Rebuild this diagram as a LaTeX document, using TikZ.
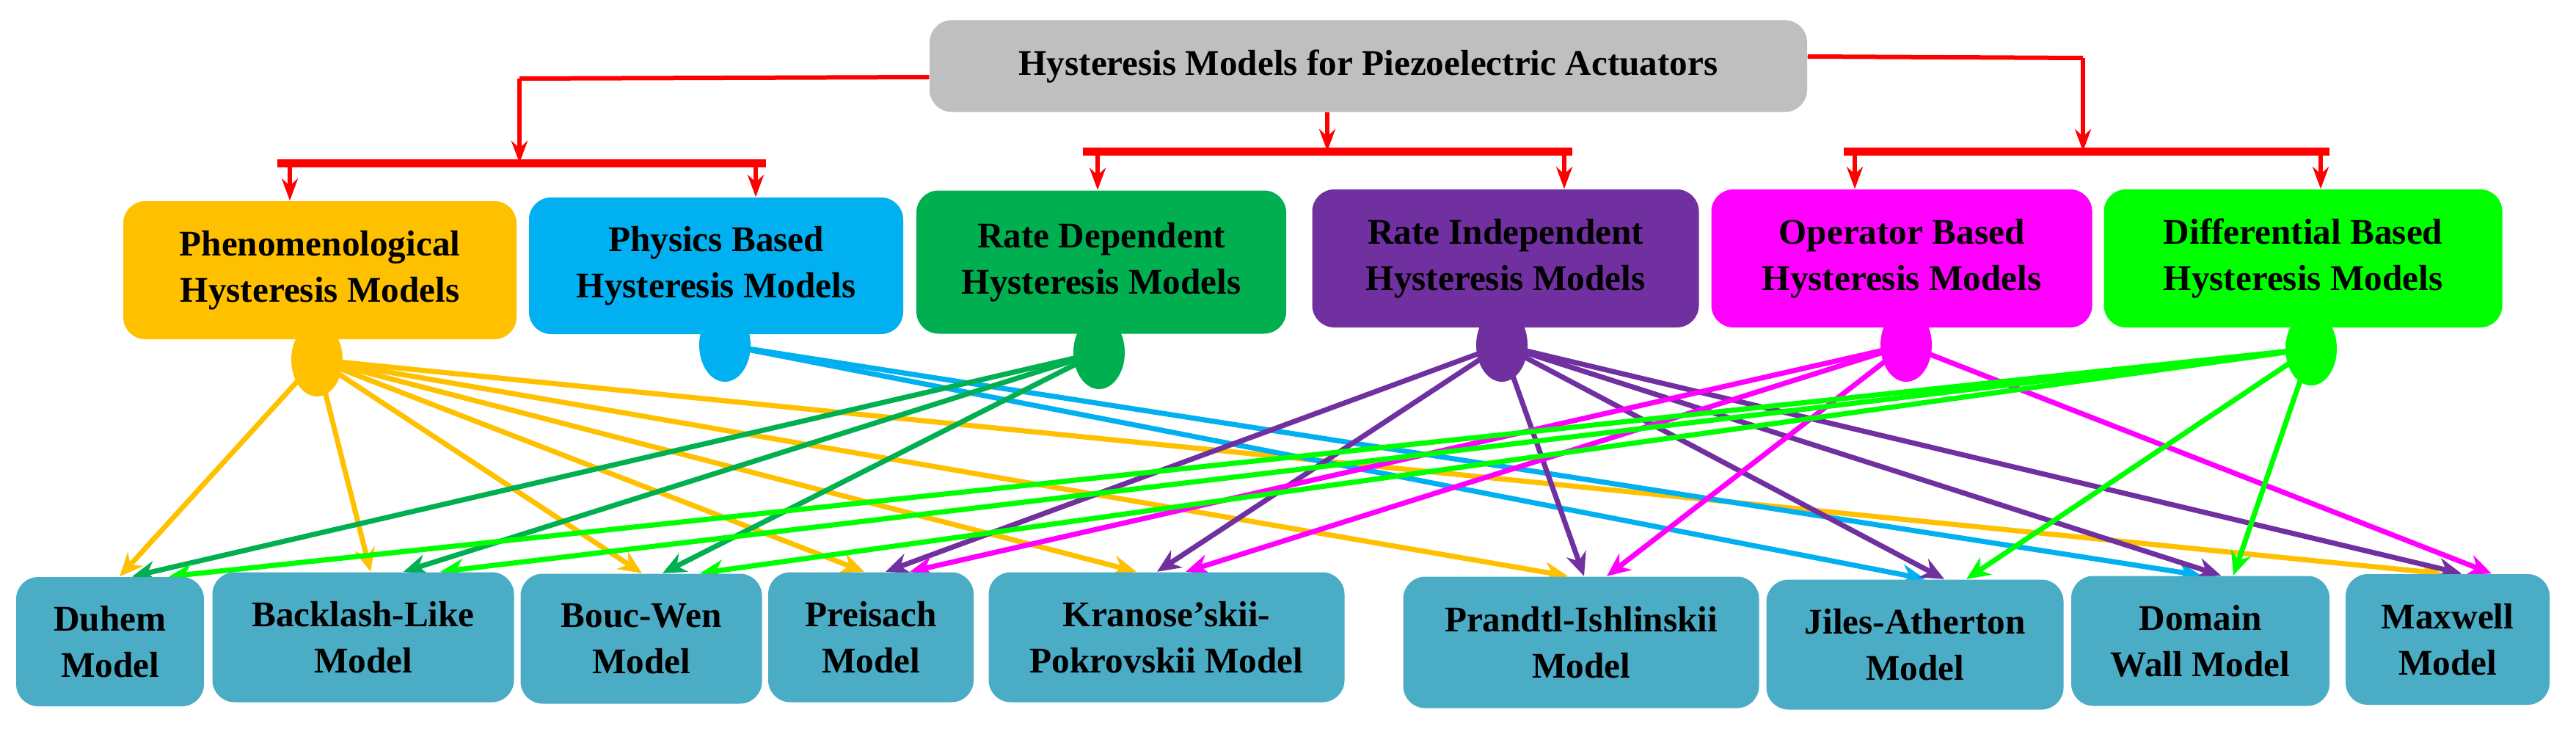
\documentclass[tikz,border=0pt]{standalone}
\usepackage{fontspec}
\setmainfont{Liberation Serif}
\usetikzlibrary{arrows.meta,shapes.geometric}
\pgfdeclarelayer{bg}\pgfsetlayers{bg,main}
\definecolor{cPh}{HTML}{FFC000}\definecolor{cPb}{HTML}{00B0F0}
\definecolor{cRd}{HTML}{00B050}\definecolor{cRi}{HTML}{7030A0}
\definecolor{cOp}{HTML}{FF00FF}\definecolor{cDf}{HTML}{00FF00}
\definecolor{cBt}{HTML}{4BACC6}\definecolor{cTop}{HTML}{BFBFBF}
\definecolor{cRed}{HTML}{FF0000}
\tikzset{
 box/.style={rounded corners=0.3cm,inner sep=2pt,align=center,font=\bfseries\fontsize{14}{18}\selectfont},
 bulb/.style={ellipse,minimum width=0.7cm,minimum height=1.0cm,inner sep=0pt},
 con/.style={line width=0.07cm,-{Stealth[length=0.32cm,width=0.28cm]}},
 rl/.style={cRed,line width=0.06cm},
 rbar/.style={cRed,line width=0.11cm},
 ra/.style={cRed,line width=0.06cm,-{Stealth[length=0.3cm,width=0.22cm]}}
}
\begin{document}
\begin{tikzpicture}
\useasboundingbox (0,0) rectangle (35.11,9.92);
% top
\node[box,fill=cTop,minimum width=11.96cm,minimum height=1.25cm] (top) at (18.65,9.02) {Hysteresis Models for Piezoelectric Actuators};
% categories
\node[box,fill=cPh,minimum width=5.36cm,minimum height=1.88cm] (ph) at (4.36,6.24) {Phenomenological\\Hysteresis Models};
\node[box,fill=cPb,minimum width=5.10cm,minimum height=1.86cm] (pb) at (9.76,6.30) {Physics Based\\Hysteresis Models};
\node[box,fill=cRd,minimum width=5.04cm,minimum height=1.95cm] (rd) at (15.01,6.35) {Rate Dependent\\Hysteresis Models};
\node[box,fill=cRi,minimum width=5.27cm,minimum height=1.88cm] (ri) at (20.52,6.40) {Rate Independent\\Hysteresis Models};
\node[box,fill=cOp,minimum width=5.19cm,minimum height=1.88cm] (op) at (25.92,6.40) {Operator Based\\Hysteresis Models};
\node[box,fill=cDf,minimum width=5.43cm,minimum height=1.88cm] (df) at (31.39,6.40) {Differential Based\\Hysteresis Models};
% bulbs
\node[bulb,fill=cPh] (bph) at (4.32,5.02) {};
\node[bulb,fill=cPb] (bpb) at (9.88,5.22) {};
\node[bulb,fill=cRd] (brd) at (14.98,5.12) {};
\node[bulb,fill=cRi] (bri) at (20.47,5.22) {};
\node[bulb,fill=cOp] (bop) at (25.98,5.22) {};
\node[bulb,fill=cDf] (bdf) at (31.50,5.17) {};
% bottom
\node[box,fill=cBt,minimum width=2.56cm,minimum height=1.76cm] (duh) at (1.50,1.18) {Duhem\\Model};
\node[box,fill=cBt,minimum width=4.11cm,minimum height=1.77cm] (bac) at (4.95,1.24) {Backlash-Like\\Model};
\node[box,fill=cBt,minimum width=3.29cm,minimum height=1.77cm] (bou) at (8.74,1.22) {Bouc-Wen\\Model};
\node[box,fill=cBt,minimum width=2.80cm,minimum height=1.77cm] (pre) at (11.87,1.24) {Preisach\\Model};
\node[box,fill=cBt,minimum width=4.85cm,minimum height=1.77cm] (kra) at (15.90,1.24) {Kranose’skii-\\Pokrovskii Model};
\node[box,fill=cBt,minimum width=4.85cm,minimum height=1.79cm] (pra) at (21.55,1.17) {Prandtl-Ishlinskii\\Model};
\node[box,fill=cBt,minimum width=4.05cm,minimum height=1.77cm] (jil) at (26.10,1.14) {Jiles-Atherton\\Model};
\node[box,fill=cBt,minimum width=3.52cm,minimum height=1.77cm] (dom) at (29.99,1.19) {Domain\\Wall Model};
\node[box,fill=cBt,minimum width=2.78cm,minimum height=1.78cm] (max) at (33.36,1.21) {Maxwell\\Model};
% red tree
\coordinate (la) at (7.08,8.85);
\coordinate (lb) at (7.08,7.70);
\coordinate (l1) at (3.95,7.70);
\coordinate (l2) at (10.30,7.70);
\coordinate (mb) at (18.09,7.86);
\coordinate (m1) at (14.96,7.86);
\coordinate (m2) at (21.32,7.86);
\coordinate (ra1) at (28.39,9.13);
\coordinate (rb) at (28.39,7.86);
\coordinate (r1) at (25.28,7.86);
\coordinate (r2) at (31.63,7.86);
\draw[rl] ([yshift=-0.15cm]top.west) -- (la);
\draw[ra] (la) -- (lb);
\draw[rbar] (3.78,7.70) -- (10.44,7.70);
\draw[ra] (l1) -- (l1|-ph.north);
\draw[ra] (l2) -- (l2|-pb.north);
\draw[ra] (mb|-top.south) -- (mb);
\draw[rbar] (14.76,7.86) -- (21.43,7.86);
\draw[ra] (m1) -- (m1|-rd.north);
\draw[ra] (m2) -- (m2|-ri.north);
\draw[rl] ([yshift=0.13cm]top.east) -- (ra1);
\draw[ra] (ra1) -- (rb);
\draw[rbar] (25.13,7.86) -- (31.75,7.86);
\draw[ra] (r1) -- (r1|-op.north);
\draw[ra] (r2) -- (r2|-df.north);
% connectors
\begin{pgfonlayer}{bg}
\draw[con,cPh] (bph.center) -- ([xshift=0.13cm]duh.north);
\draw[con,cPh] (bph.center) -- ([xshift=0.10cm]bac.north);
\draw[con,cPh] (bph.center) -- ([xshift=0.01cm]bou.north);
\draw[con,cPh] (bph.center) -- ([xshift=-0.09cm]pre.north);
\draw[con,cPh] (bph.center) -- ([xshift=-0.41cm]kra.north);
\draw[con,cPh] (bph.center) -- ([xshift=-0.18cm]pra.north);
\draw[con,cPh] (bph.center) -- ([xshift=-0.07cm]max.north);
\draw[con,cPb] (bpb.center) -- ([xshift=0.14cm]jil.north);
\draw[con,cPb] (bpb.center) -- ([xshift=0.01cm]dom.north);
\draw[con,cRd] (brd.center) -- ([xshift=0.30cm]duh.north);
\draw[con,cRd] (brd.center) -- ([xshift=0.55cm]bac.north);
\draw[con,cRd] (brd.center) -- ([xshift=0.29cm]bou.north);
\draw[con,cRi] (bri.center) -- ([xshift=0.20cm]pre.north);
\draw[con,cRi] (bri.center) -- ([xshift=-0.13cm]kra.north);
\draw[con,cRi] (bri.center) -- ([xshift=0.04cm]pra.north);
\draw[con,cRi] (bri.center) -- ([xshift=0.40cm]jil.north);
\draw[con,cRi] (bri.center) -- ([xshift=0.28cm]dom.north);
\draw[con,cRi] (bri.center) -- ([xshift=0.19cm]max.north);
\draw[con,cOp] (bop.center) -- ([xshift=0.53cm]pre.north);
\draw[con,cOp] (bop.center) -- ([xshift=0.26cm]kra.north);
\draw[con,cOp] (bop.center) -- ([xshift=0.35cm]pra.north);
\draw[con,cOp] (bop.center) -- ([xshift=0.60cm]max.north);
\draw[con,cDf] (bdf.center) -- ([xshift=0.80cm]duh.north);
\draw[con,cDf] (bdf.center) -- ([xshift=1.05cm]bac.north);
\draw[con,cDf] (bdf.center) -- ([xshift=0.80cm]bou.north);
\draw[con,cDf] (bdf.center) -- ([xshift=0.70cm]jil.north);
\draw[con,cDf] (bdf.center) -- ([xshift=0.45cm]dom.north);
\end{pgfonlayer}
\end{tikzpicture}
\end{document}
